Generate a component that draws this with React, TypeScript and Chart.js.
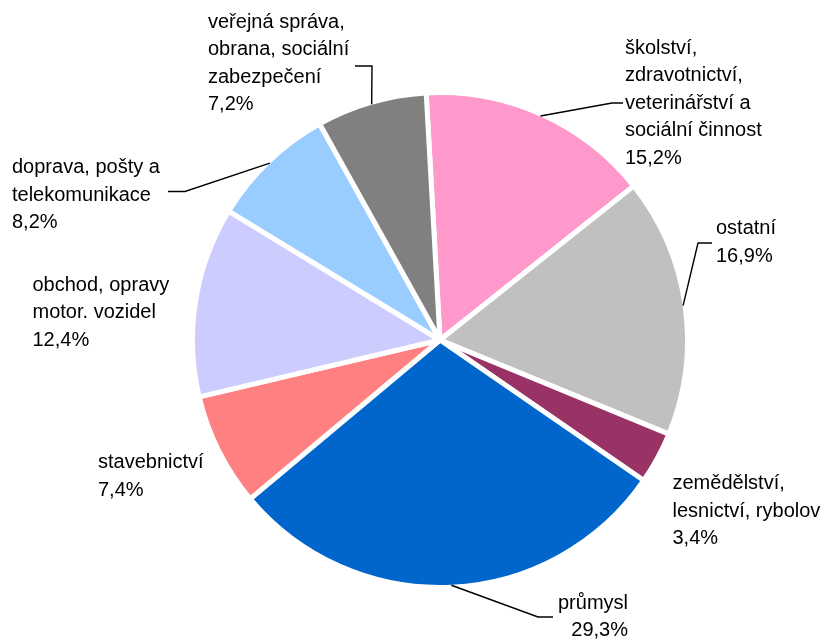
import React, { useEffect, useRef } from "react";
import { Chart, registerables } from "chart.js";

Chart.register(...registerables);

// ---- data ----
const categories: string[][] = [
  ["školství,", "zdravotnictví,", "veterinářství a", "sociální činnost"],
  ["ostatní"],
  ["zemědělství,", "lesnictví, rybolov"],
  ["průmysl"],
  ["stavebnictví"],
  ["obchod, opravy", "motor. vozidel"],
  ["doprava, pošty a", "telekomunikace"],
  ["veřejná správa,", "obrana, sociální", "zabezpečení"],
];
const shares: number[] = [15.2, 16.9, 3.4, 29.3, 7.4, 12.4, 8.2, 7.2];
const colors: string[] = [
  "#FF99CC",
  "#C0C0C0",
  "#993366",
  "#0066CC",
  "#FF8080",
  "#CCCCFF",
  "#99CCFF",
  "#808080",
];

// ---- label layout (annotation placement) ----
type LabelLayout = {
  x: number;
  y: number;
  align: "left" | "right";
  leader?: boolean;
  elbow?: [number, number];
  end?: [number, number];
};
const labelLayout: LabelLayout[] = [
  { x: 625, y: 48, align: "left", leader: true, elbow: [612, 103], end: [623, 103] },
  { x: 716, y: 228.5, align: "left", leader: true, elbow: [698, 243], end: [712, 243] },
  { x: 672.5, y: 483.5, align: "left" },
  { x: 628, y: 603, align: "right", leader: true, elbow: [538, 617], end: [553, 617] },
  { x: 98, y: 462.5, align: "left" },
  { x: 32.5, y: 285, align: "left" },
  { x: 12, y: 167.5, align: "left", leader: true, elbow: [185, 191.5], end: [168, 191.5] },
  { x: 208, y: 22, align: "left", leader: true, elbow: [372, 66], end: [355, 66] },
];

const LABEL_FONT = "20px 'Liberation Sans', Arial, sans-serif";
const LINE_HEIGHT = 27.5;

const fmt = (v: number) => v.toFixed(1).replace(".", ",") + "%";

const labelPlugin = {
  id: "pieLabels",
  afterDraw(chart: any) {
    const ctx: CanvasRenderingContext2D = chart.ctx;
    const meta = chart.getDatasetMeta(0);
    ctx.save();
    ctx.font = LABEL_FONT;
    ctx.fillStyle = "#000";
    ctx.strokeStyle = "#000";
    ctx.lineWidth = 1.4;
    ctx.textBaseline = "middle";
    meta.data.forEach((arc: any, i: number) => {
      const lay = labelLayout[i];
      const p = arc.getProps(["x", "y", "startAngle", "endAngle", "outerRadius"], true);
      if (lay.leader && lay.elbow && lay.end) {
        const a = (p.startAngle + p.endAngle) / 2;
        const r = p.outerRadius - 2;
        const ax = p.x + r * Math.cos(a);
        const ay = p.y + r * Math.sin(a);
        ctx.beginPath();
        ctx.moveTo(ax, ay);
        ctx.lineTo(lay.elbow[0], lay.elbow[1]);
        ctx.lineTo(lay.end[0], lay.end[1]);
        ctx.stroke();
      }
      const lines = [...categories[i], fmt(shares[i])];
      ctx.textAlign = lay.align;
      lines.forEach((t, k) => {
        ctx.fillText(t, lay.x, lay.y + k * LINE_HEIGHT);
      });
    });
    ctx.restore();
  },
};

export default function App() {
  const ref = useRef<HTMLCanvasElement | null>(null);
  useEffect(() => {
    if (!ref.current) return;
    const chart = new Chart(ref.current, {
      type: "pie",
      data: {
        labels: categories,
        datasets: [
          {
            data: shares,
            backgroundColor: colors,
            borderColor: "#FFFFFF",
            borderWidth: 5,
          },
        ],
      },
      options: {
        animation: false,
        responsive: true,
        maintainAspectRatio: false,
        radius: 247.5,
        rotation: -3.2,
        layout: { padding: { left: 53, top: 41, right: 0, bottom: 0 } },
        plugins: {
          legend: { display: false },
          tooltip: { enabled: false },
        },
      } as any,
      plugins: [labelPlugin],
    });
    return () => chart.destroy();
  }, []);
  return (
    <div
      style={{
        position: "absolute",
        left: 0,
        top: 0,
        width: 827,
        height: 639,
        background: "#fff",
      }}
    >
      <canvas ref={ref} />
    </div>
  );
}
